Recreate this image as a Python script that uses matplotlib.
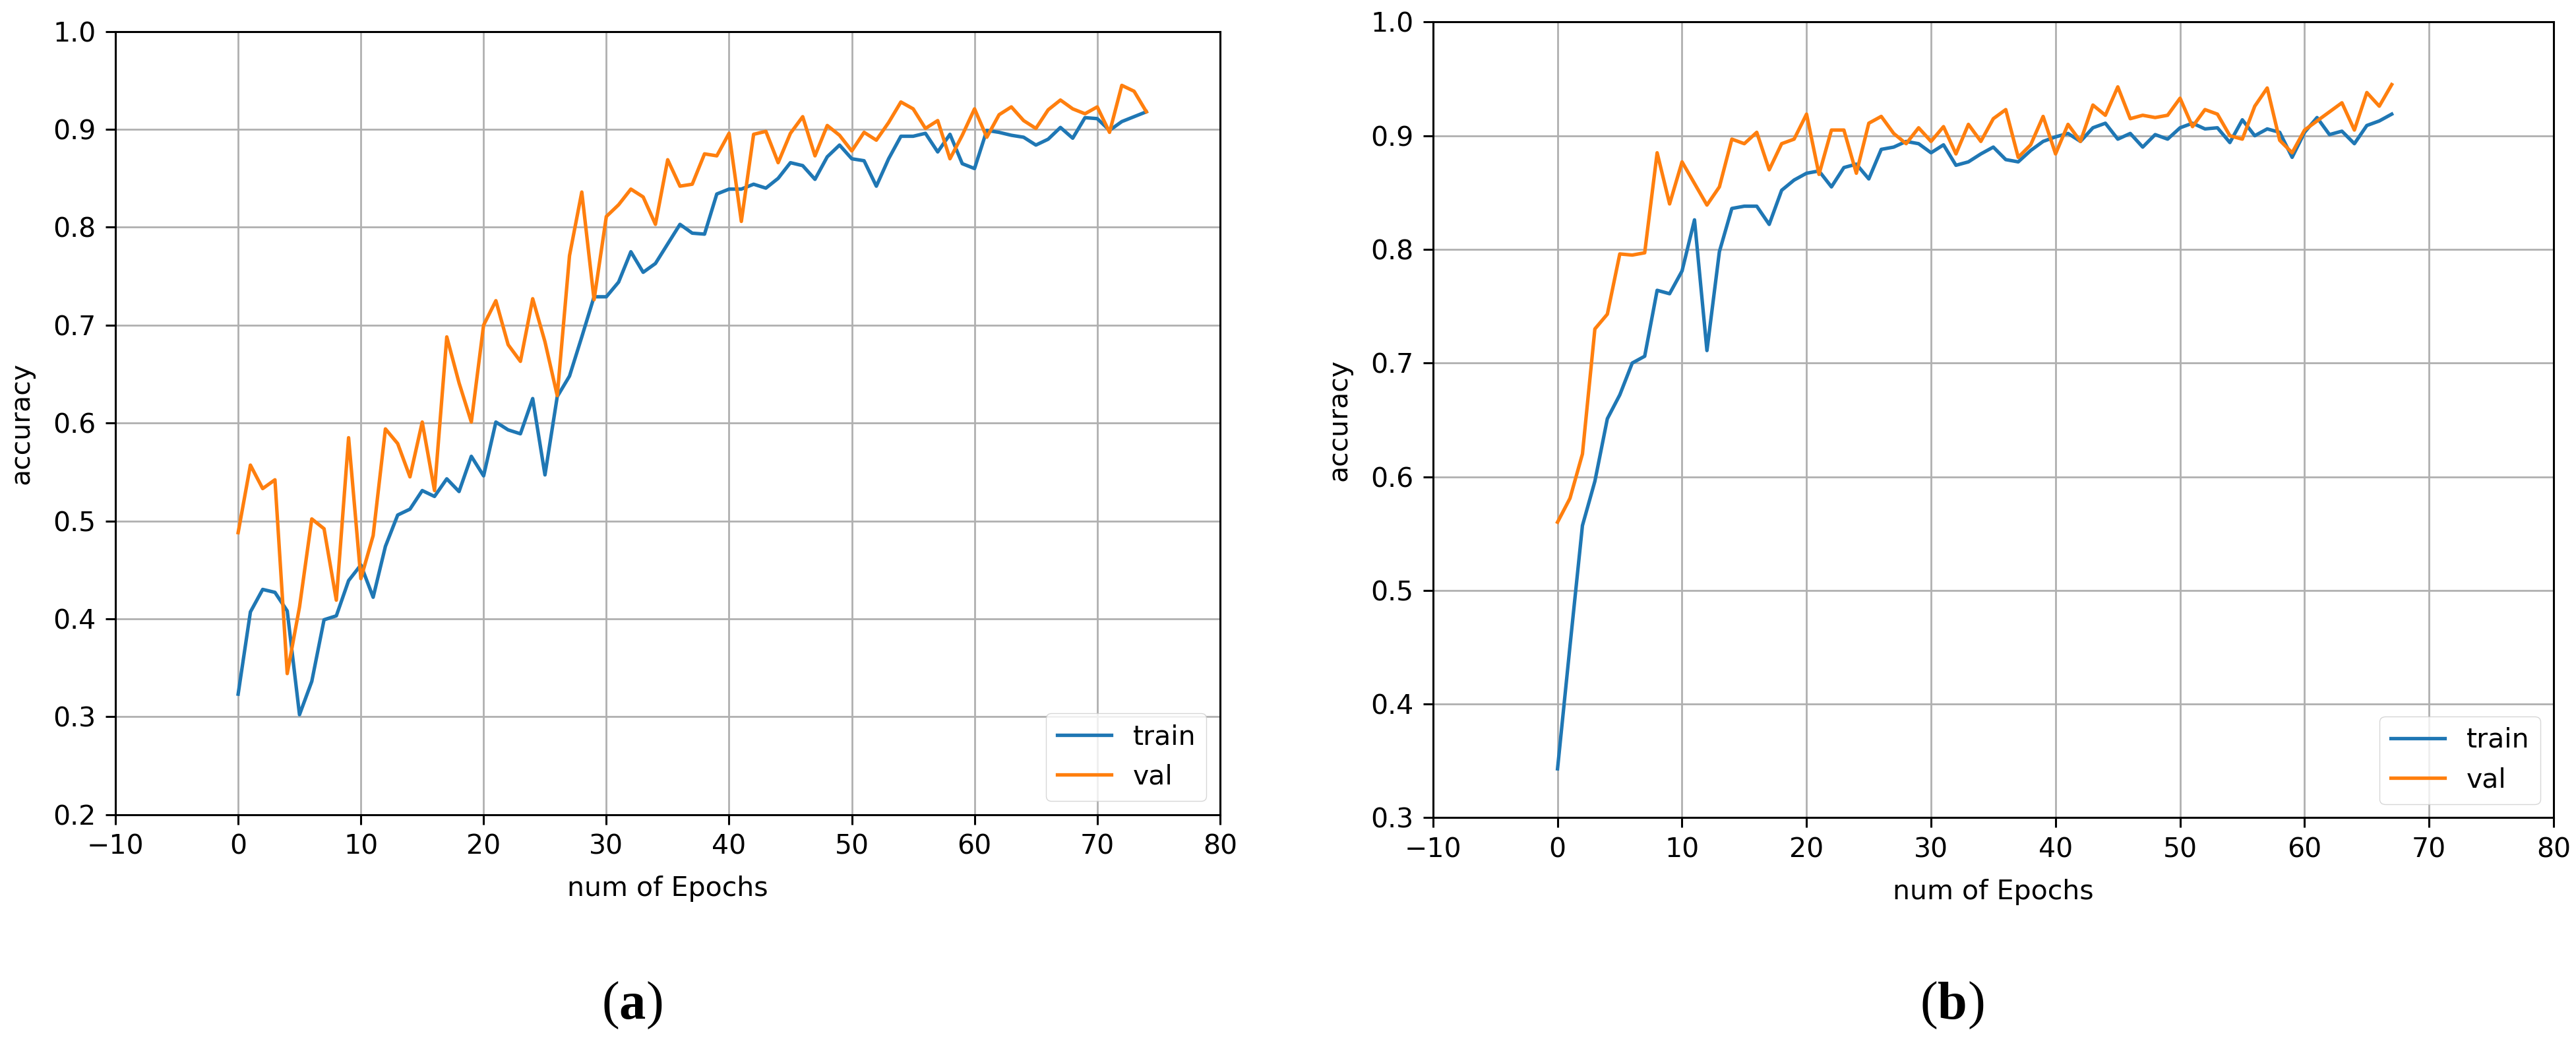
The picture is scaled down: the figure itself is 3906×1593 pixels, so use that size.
import numpy as np
import matplotlib
matplotlib.use("Agg")
import matplotlib.pyplot as plt

# (a) curvas de entrenamiento, 75 epochs
train_a = [0.323, 0.407, 0.430, 0.427, 0.408, 0.302, 0.336, 0.399, 0.403, 0.439,
           0.455, 0.422, 0.474, 0.506, 0.512, 0.531, 0.525, 0.543, 0.530, 0.566,
           0.546, 0.601, 0.593, 0.589, 0.625, 0.547, 0.627, 0.648, 0.688, 0.729,
           0.729, 0.744, 0.775, 0.754, 0.763, 0.783, 0.803, 0.794, 0.793, 0.834,
           0.839, 0.839, 0.844, 0.840, 0.850, 0.866, 0.863, 0.849, 0.872, 0.884,
           0.870, 0.868, 0.842, 0.870, 0.893, 0.893, 0.896, 0.877, 0.895, 0.865,
           0.860, 0.899, 0.897, 0.894, 0.892, 0.884, 0.890, 0.902, 0.891, 0.912,
           0.911, 0.899, 0.908, 0.913, 0.918]
val_a = [0.488, 0.557, 0.533, 0.542, 0.344, 0.412, 0.502, 0.492, 0.419, 0.585,
         0.441, 0.485, 0.594, 0.579, 0.545, 0.601, 0.531, 0.688, 0.641, 0.601,
         0.700, 0.725, 0.680, 0.663, 0.727, 0.683, 0.628, 0.771, 0.836, 0.726,
         0.811, 0.823, 0.839, 0.831, 0.803, 0.869, 0.842, 0.844, 0.875, 0.873,
         0.896, 0.806, 0.895, 0.898, 0.866, 0.896, 0.913, 0.873, 0.904, 0.894,
         0.878, 0.897, 0.889, 0.907, 0.928, 0.921, 0.901, 0.909, 0.870, 0.894,
         0.921, 0.892, 0.915, 0.923, 0.909, 0.901, 0.920, 0.930, 0.921, 0.916,
         0.923, 0.897, 0.945, 0.939, 0.918]

# (b) curvas de entrenamiento, 68 epochs
train_b = [0.343, 0.451, 0.557, 0.596, 0.651, 0.672, 0.700, 0.706, 0.764, 0.761,
           0.781, 0.826, 0.711, 0.798, 0.836, 0.838, 0.838, 0.822, 0.852, 0.861,
           0.867, 0.869, 0.855, 0.872, 0.875, 0.862, 0.888, 0.890, 0.895, 0.893,
           0.885, 0.892, 0.874, 0.877, 0.884, 0.890, 0.879, 0.877, 0.887, 0.895,
           0.899, 0.902, 0.895, 0.907, 0.911, 0.897, 0.902, 0.890, 0.901, 0.897,
           0.907, 0.911, 0.906, 0.907, 0.894, 0.914, 0.900, 0.906, 0.903, 0.881,
           0.903, 0.916, 0.901, 0.904, 0.893, 0.909, 0.913, 0.919]
val_b = [0.560, 0.581, 0.620, 0.730, 0.743, 0.796, 0.795, 0.797, 0.885, 0.840,
         0.877, 0.858, 0.839, 0.855, 0.897, 0.893, 0.903, 0.870, 0.893, 0.897,
         0.919, 0.866, 0.905, 0.905, 0.867, 0.911, 0.917, 0.902, 0.893, 0.907,
         0.895, 0.908, 0.884, 0.910, 0.895, 0.915, 0.923, 0.881, 0.892, 0.917,
         0.884, 0.910, 0.895, 0.927, 0.918, 0.943, 0.915, 0.918, 0.916, 0.918,
         0.933, 0.908, 0.923, 0.919, 0.900, 0.897, 0.926, 0.942, 0.896, 0.885,
         0.905, 0.913, 0.921, 0.929, 0.905, 0.938, 0.926, 0.945]

x_ticks = list(range(-10, 81, 10))
y_ticks_a = [0.2, 0.3, 0.4, 0.5, 0.6, 0.7, 0.8, 0.9, 1.0]
y_ticks_b = [0.3, 0.4, 0.5, 0.6, 0.7, 0.8, 0.9, 1.0]

FS = 29.5

plt.rcParams.update({
    "font.family": "DejaVu Sans",
    "font.size": FS,
    "axes.linewidth": 2.2,
    "xtick.major.size": 11,
    "ytick.major.size": 11,
    "xtick.major.width": 2.2,
    "ytick.major.width": 2.2,
    "xtick.major.pad": 10,
    "ytick.major.pad": 10,
    "grid.linewidth": 2.0,
    "grid.color": "#b0b0b0",
})


def panel(ax, train, val, yticks):
    ax.plot(np.arange(len(train)), train, color="#1f77b4", lw=3.8, label="train")
    ax.plot(np.arange(len(val)), val, color="#ff7f0e", lw=3.8, label="val")
    ax.set_xlim(-10, 80)
    ax.set_ylim(yticks[0], yticks[-1])
    ax.set_xticks(x_ticks)
    ax.set_yticks(yticks)
    ax.set_yticklabels([f"{v:.1f}" for v in yticks])
    ax.grid(True)
    ax.set_xlabel("num of Epochs", labelpad=17)
    ax.set_ylabel("accuracy", labelpad=20)
    ax.legend(loc="lower right", fontsize=FS, framealpha=0.8,
              handlelength=2.0, borderaxespad=0.5)


def caption(fig, x, y, letra):
    # "(" normal, letra en negrita, ")" normal, estilo Times
    t = fig.text(x, y, letra, fontsize=58, family="Liberation Serif",
                 fontweight="bold", ha="center", va="bottom")
    fig.add_artist(plt.Annotation("(", xy=(0, 0), xycoords=t, ha="right", va="bottom",
                                  fontsize=58, family="Liberation Serif"))
    fig.add_artist(plt.Annotation(")", xy=(1, 0), xycoords=t, ha="left", va="bottom",
                                  fontsize=58, family="Liberation Serif"))


fig = plt.figure(figsize=(39.06, 15.93), dpi=100)
ax_a = fig.add_axes([0.0448, 0.225, 0.4288, 0.745])
ax_b = fig.add_axes([0.5563, 0.222, 0.4350, 0.757])

panel(ax_a, train_a, val_a, y_ticks_a)
panel(ax_b, train_b, val_b, y_ticks_b)

caption(fig, 0.2455, 0.02, "a")
caption(fig, 0.758, 0.02, "b")

fig.savefig("out.png", dpi=100)
